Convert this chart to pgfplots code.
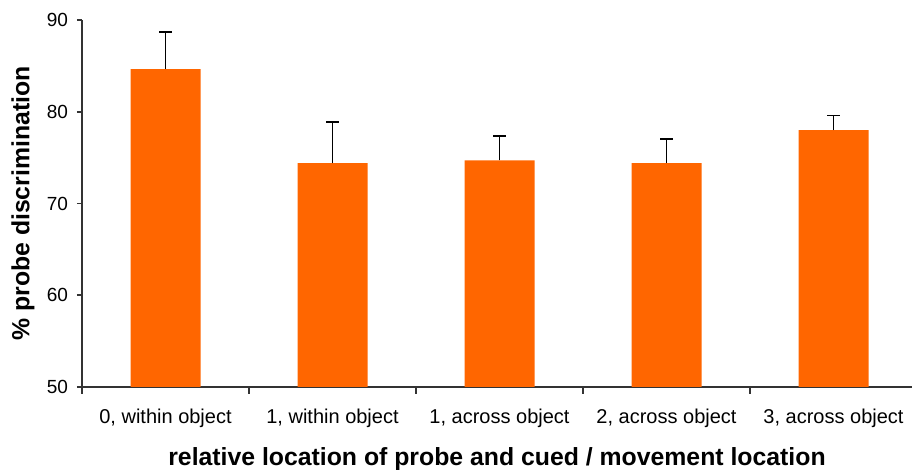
\documentclass[border=0pt]{standalone}
\usepackage{pgfplots}
\pgfplotsset{compat=1.18}
\usepackage{fontspec}
\setmainfont{Liberation Sans}
\definecolor{barorange}{HTML}{FF6600}
\definecolor{axisgray}{HTML}{333333}
\begin{document}
\begin{tikzpicture}
\path[use as bounding box] (-41pt,-41.5pt) rectangle (415pt,193.5pt);
\begin{axis}[
  at={(0,0)}, anchor=south west,
  scale only axis,
  width=415pt, height=183.5pt,
  xmin=-0.5, xmax=4.47,
  ymin=50, ymax=90,
  axis x line*=bottom, axis y line*=left,
  axis line style={axisgray, line width=0.8pt},
  ytick={50,60,70,80,90},
  xtick={0,1,2,3,4},
  xticklabels={{0, within object},{1, within object},{1, across object},{2, across object},{3, across object}},
  minor xtick={-0.5,0.5,1.5,2.5,3.5},
  major x tick style={draw=none},
  minor x tick style={axisgray, line width=0.8pt},
  minor tick length=3.5pt,
  y tick style={axisgray, line width=0.8pt},
  major tick length=2.5pt,
  tick align=outside,
  /pgf/number format/assume math mode=true,
  yticklabel style={font=\fontsize{9.5}{11}\selectfont, xshift=-1pt},
  xticklabel style={font=\fontsize{10}{12}\selectfont, anchor=base, yshift=-16pt},
  xlabel={relative location of probe and cued / movement location},
  ylabel={\% probe discrimination},
  every axis x label/.style={at={([yshift=-39.5pt]axis description cs:0.5,0)}, anchor=base, font=\bfseries\fontsize{12.4}{14}\selectfont},
  every axis y label/.style={at={([xshift=-29.5pt]axis description cs:0,0.5)}, anchor=center, rotate=90, font=\bfseries\fontsize{12.4}{14}\selectfont},
  clip=false,
]
\addplot[ybar, bar width=35pt, fill=barorange, draw=none,
  error bars/.cd, y dir=plus, y explicit,
  error bar style={black, line width=0.6pt},
  error mark options={rotate=90, mark size=3.25pt, line width=0.8pt, black}]
  coordinates {
    (0,84.65) +- (0,4.05)
    (1,74.4) +- (0,4.5)
    (2,74.7) +- (0,2.65)
    (3,74.4) +- (0,2.6)
    (4,78.0) +- (0,1.6)
  };
\end{axis}
\end{tikzpicture}
\end{document}
